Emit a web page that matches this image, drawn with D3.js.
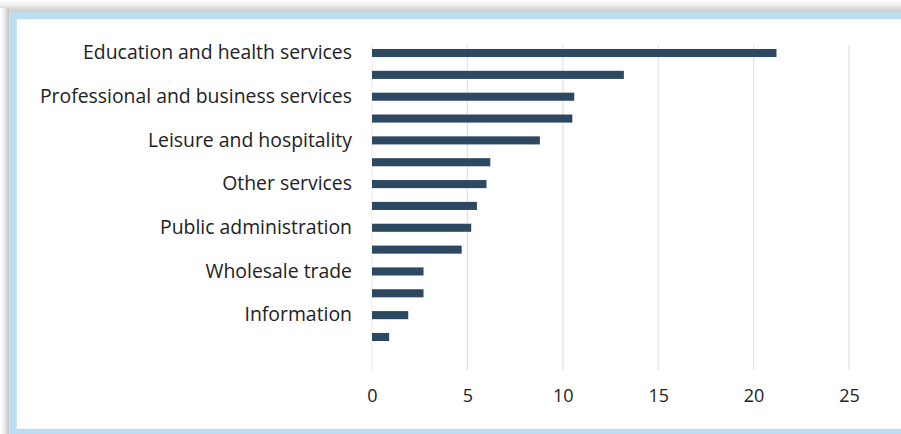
<!DOCTYPE html>
<html>
<head>
<meta charset="utf-8">
<script src="https://cdn.jsdelivr.net/npm/d3@7"></script>
<style>
  html, body { margin: 0; padding: 0; background: #ffffff; }
  svg { display: block; }
</style>
</head>
<body>
<svg id="chart" width="901" height="434"></svg>
<script>
// Share of employment by industry (percent)
const industries = [
  "Education and health services",
  "Retail trade",
  "Professional and business services",
  "Manufacturing",
  "Leisure and hospitality",
  "Construction",
  "Other services",
  "Financial activities",
  "Public administration",
  "Transportation and warehousing",
  "Wholesale trade",
  "Agriculture, forestry, fishing, and hunting",
  "Information",
  "Mining"
];
const shares = [21.2, 13.2, 10.6, 10.5, 8.8, 6.2, 6.0, 5.5, 5.2, 4.7, 2.7, 2.7, 1.9, 0.9];
// only every other industry gets a label on the axis
const labelledIndustries = industries.filter((d, i) => i % 2 === 0);
const xTicks = [0, 5, 10, 15, 20, 25];

const svg = d3.select("#chart");
const W = 901, H = 434;

// page shadow and framed panel
const defs = svg.append("defs");
const gTop = defs.append("linearGradient").attr("id", "shadowTop")
  .attr("x1", 0).attr("y1", 0).attr("x2", 0).attr("y2", 1);
gTop.append("stop").attr("offset", 0).attr("stop-color", "#ffffff");
gTop.append("stop").attr("offset", 0.35).attr("stop-color", "#f2f2f2");
gTop.append("stop").attr("offset", 1).attr("stop-color", "#c9c9c9");
const gLeft = defs.append("linearGradient").attr("id", "shadowLeft")
  .attr("x1", 0).attr("y1", 0).attr("x2", 1).attr("y2", 0);
gLeft.append("stop").attr("offset", 0).attr("stop-color", "#ffffff");
gLeft.append("stop").attr("offset", 0.4).attr("stop-color", "#f0f0f0");
gLeft.append("stop").attr("offset", 1).attr("stop-color", "#c4c4c4");

svg.append("rect").attr("x", 0).attr("y", 0).attr("width", W).attr("height", 12)
  .attr("fill", "url(#shadowTop)");
svg.append("rect").attr("x", 0).attr("y", 8).attr("width", 9).attr("height", H - 8)
  .attr("fill", "url(#shadowLeft)");

// light blue frame, continuing past the right edge
svg.append("rect")
  .attr("x", 13).attr("y", 15.5)
  .attr("width", W + 20).attr("height", H - 15.5 - 1.5)
  .attr("fill", "#ffffff")
  .attr("stroke", "#c0dcf0")
  .attr("stroke-width", 7.5);

const x = d3.scaleLinear().domain([0, 25]).range([372, 849]);
const y = d3.scaleBand().domain(industries)
  .range([42.1, 347.9])
  .paddingInner(0.63)
  .paddingOuter(0.315);

// vertical gridlines
svg.append("g").selectAll("line")
  .data(xTicks)
  .join("line")
  .attr("x1", d => x(d)).attr("x2", d => x(d))
  .attr("y1", 45).attr("y2", 370)
  .attr("stroke", d => d === 0 ? "#f1eeec" : "#e6e2df")
  .attr("stroke-width", 1.2);

// bars
svg.append("g").selectAll("rect")
  .data(industries.map((name, i) => ({ name, value: shares[i] })))
  .join("rect")
  .attr("x", x(0))
  .attr("y", d => y(d.name))
  .attr("width", d => x(d.value) - x(0))
  .attr("height", y.bandwidth())
  .attr("fill", "#2d4862");

// category axis
const yAxis = d3.axisLeft(y).tickValues(labelledIndustries).tickSize(0).tickPadding(20);
const gy = svg.append("g").attr("transform", `translate(${x(0)},0)`).call(yAxis);
gy.select(".domain").remove();
gy.selectAll("text")
  .attr("fill", "#222222")
  .style("font-family", "'Open Sans', sans-serif")
  .style("font-size", "19.4px");

// value axis
const xAxis = d3.axisBottom(x).tickValues(xTicks).tickSize(0).tickPadding(0);
const gx = svg.append("g").attr("transform", "translate(0,389)").call(xAxis);
gx.select(".domain").remove();
gx.selectAll("text")
  .attr("fill", "#222222")
  .style("font-family", "'Open Sans', sans-serif")
  .style("font-size", "18px");
</script>
</body>
</html>
